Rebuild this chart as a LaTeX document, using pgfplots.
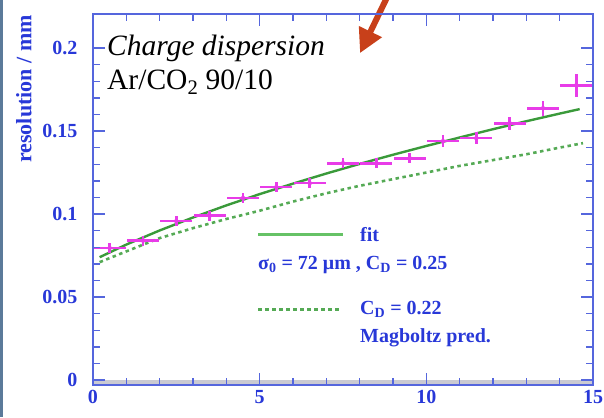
\documentclass[border=0pt]{standalone}
\usepackage{fontspec}
\setmainfont{Liberation Serif}
\usepackage{pgfplots}
\pgfplotsset{compat=1.18}
\usetikzlibrary{arrows.meta}
\definecolor{axblue}{HTML}{5566DD}
\definecolor{txtblue}{HTML}{2838D8}
\definecolor{mag}{HTML}{E83CE8}
\definecolor{fitgreen}{HTML}{3A9A3A}
\definecolor{dotgreen}{HTML}{55AA55}
\definecolor{leggreen}{HTML}{66C266}
\definecolor{arrowred}{HTML}{C8401A}
\definecolor{bandgray}{HTML}{CACAD2}
\definecolor{slide}{HTML}{5B7A9A}

\pgfplotstableread{
x y ex ey
0.5 0.0795 0.48 0.003
1.5 0.0840 0.48 0.003
2.5 0.0957 0.48 0.003
3.5 0.0990 0.48 0.003
4.5 0.1096 0.48 0.003
5.5 0.1162 0.48 0.003
6.5 0.1186 0.48 0.003
7.5 0.1306 0.48 0.003
8.5 0.1306 0.48 0.003
9.5 0.1336 0.48 0.003
10.5 0.1439 0.48 0.0035
11.5 0.1457 0.48 0.0035
12.5 0.1547 0.48 0.004
13.5 0.1637 0.48 0.0045
14.5 0.1776 0.48 0.007
}\datatable

\begin{document}
\begin{tikzpicture}
\begin{axis}[
  name=ax, at={(0,0)}, anchor=south west,
  scale only axis, width=500pt, height=371pt,
  xmin=0, xmax=15, ymin=-0.003, ymax=0.2205,
  axis on top,
  axis line style={axblue, line width=1.6pt},
  xtick={0,5,10,15}, xticklabels={0,5,10,15},
  ytick={0,0.05,0.1,0.15,0.2}, yticklabels={0,0.05,0.1,0.15,0.2},
  minor x tick num=4, minor y tick num=4,
  tick align=inside,
  major tick length=12pt, minor tick length=7pt,
  every tick/.style={axblue, line width=1.4pt},
  tick label style={font=\bfseries\fontsize{20}{20}\selectfont, text=txtblue},
  yticklabel style={xshift=-12pt},
  xticklabel style={yshift=-2pt},
  ylabel={resolution / mm},
  every axis y label/.style={at={(rel axis cs:-0.138,0.997)}, anchor=east, rotate=90, inner sep=0pt,
    font=\bfseries\fontsize{22}{22}\selectfont, text=txtblue},
  clip=false,
]
\fill[bandgray] (axis cs:0,-0.003) rectangle (axis cs:15,0);

\addplot[dotgreen, line width=2.6pt, dash pattern=on 3.5pt off 3.5pt] coordinates {
(0.2,0.0710) (1,0.0775) (2,0.0855) (3,0.0915) (4,0.0970) (5,0.1020) (6,0.1075)
(7,0.1125) (8,0.1170) (9,0.1210) (10,0.1250) (11,0.1290) (12,0.1325) (13,0.1360)
(14,0.1400) (14.7,0.1427)};

\addplot[fitgreen, line width=2.4pt] coordinates {
(0.2,0.0740) (1,0.0816) (2,0.0901) (3,0.0979) (4,0.1052) (5,0.1120) (6,0.1183)
(7,0.1244) (8,0.1302) (9,0.1357) (10,0.1410) (11,0.1461) (12,0.1511) (13,0.1559)
(14,0.1605) (14.6,0.1632)};

\addplot[only marks, mark=none, mag,
  error bars/.cd, x dir=both, x explicit, y dir=both, y explicit,
  error mark=none, error bar style={mag, line width=2.6pt}]
  table[x=x, y=y, x error=ex, y error=ey] {\datatable};

% title
\node[anchor=base west, inner sep=0pt, font=\itshape\fontsize{29.5}{30}\selectfont] at (axis cs:0.42,0.1957) {Charge dispersion};
\node[anchor=base west, inner sep=0pt, font=\fontsize{29.5}{30}\selectfont] at (axis cs:0.42,0.1752) {Ar/CO\textsubscript{2} 90/10};

% legend
\draw[leggreen, line width=3pt] (axis cs:4.95,0.0879) -- (axis cs:7.5,0.0879);
\node[anchor=west, inner sep=0pt, font=\bfseries\fontsize{20}{20}\selectfont, text=txtblue] at (axis cs:8.01,0.0879) {fit};
\node[anchor=west, inner sep=0pt, font=\bfseries\fontsize{20}{20}\selectfont, text=txtblue] at (axis cs:4.95,0.0692) {σ\textsubscript{0} = 72 μm , C\textsubscript{D} = 0.25};
\draw[dotgreen, line width=3pt, dash pattern=on 4pt off 3pt] (axis cs:4.95,0.0427) -- (axis cs:7.45,0.0427);
\node[anchor=west, inner sep=0pt, font=\bfseries\fontsize{20}{20}\selectfont, text=txtblue] at (axis cs:8.01,0.0427) {C\textsubscript{D} = 0.22};
\node[anchor=west, inner sep=0pt, font=\bfseries\fontsize{20}{20}\selectfont, text=txtblue] at (axis cs:8.01,0.0253) {Magboltz pred.};

% annotation arrow
\draw[arrowred, line width=6pt, -{Triangle[length=24pt,width=24pt]}] (axis cs:9.05,0.240) -- (axis cs:8.01,0.1969);
\end{axis}
\fill[slide] (-93pt,-32pt) rectangle (-90pt,385pt);
\pgfresetboundingbox
\path[use as bounding box] (-93pt,-32pt) rectangle (511pt,385pt);
\end{tikzpicture}
\end{document}
